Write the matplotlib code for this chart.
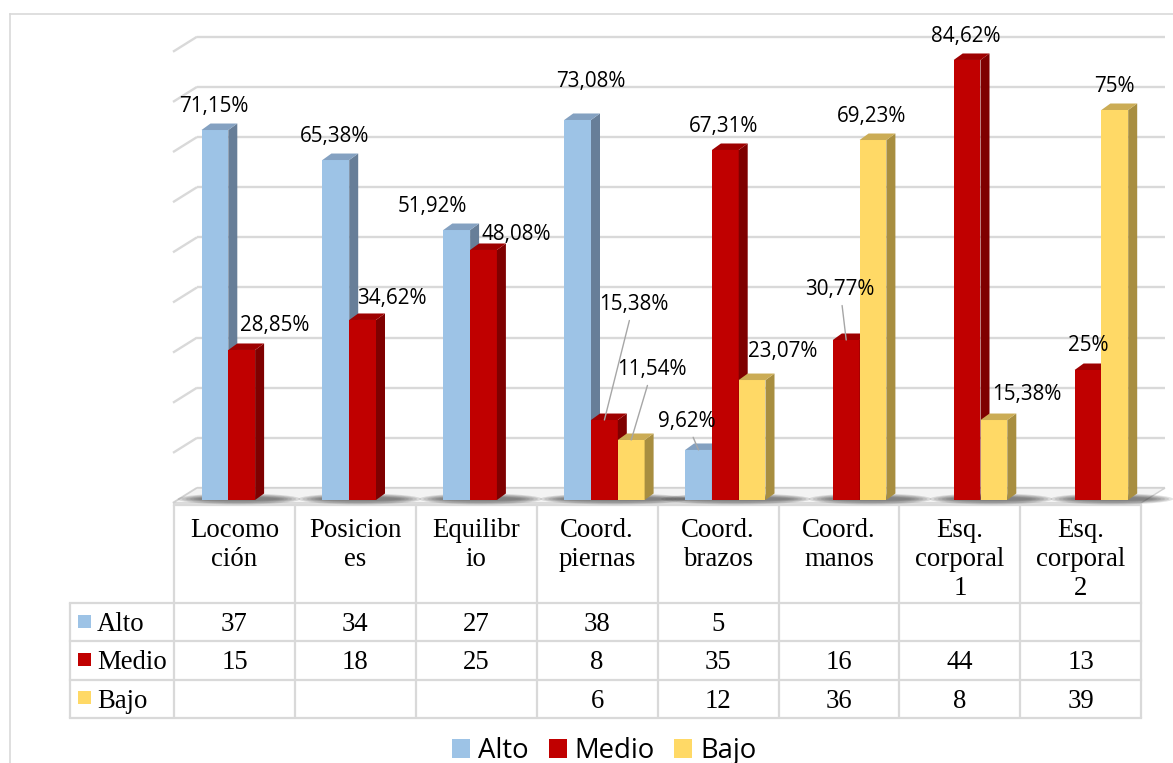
import matplotlib
matplotlib.use("Agg")
import matplotlib.pyplot as plt
from matplotlib.patches import Polygon, Rectangle, Ellipse, Patch

# ---------------- data ----------------
categories = ["Locomo\nción", "Posicion\nes", "Equilibr\nio", "Coord.\npiernas",
              "Coord.\nbrazos", "Coord.\nmanos", "Esq.\ncorporal\n1", "Esq.\ncorporal\n2"]
series = ["Alto", "Medio", "Bajo"]
alto_pct = [71.15, 65.38, 51.92, 73.08, 9.62, None, None, None]
medio_pct = [28.85, 34.62, 48.08, 15.38, 67.31, 30.77, 84.62, 25.00]
bajo_pct = [None, None, None, 11.54, 23.07, 69.23, 15.38, 75.00]
alto_n = [37, 34, 27, 38, 5, None, None, None]
medio_n = [15, 18, 25, 8, 35, 16, 44, 13]
bajo_n = [None, None, None, 6, 12, 36, 8, 39]
grid_values = [0, 10, 20, 30, 40, 50, 60, 70, 80, 90]

pct = [alto_pct, medio_pct, bajo_pct]
counts = [alto_n, medio_n, bajo_n]

# ---------------- styles ----------------
front_c = ["#9DC3E6", "#C00000", "#FFD966"]
side_c = ["#677E98", "#7F0000", "#A88E40"]
top_c = ["#84A1C1", "#9E0000", "#CBAC55"]
grid_c = "#D9D9D9"
line_c = "#D9D9D9"
label_font = ["Open Sans", "DejaVu Sans"]
table_font = ["Liberation Serif", "DejaVu Serif"]

# label offsets in pixels relative to the front-top centre of each bar (dx, dy up, leader)
label_off = {
    (0, 0): (-1, 18, False), (0, 1): (-1, 18, False), (0, 2): (-24, 18, False),
    (0, 3): (13, 33, False), (0, 4): (-12, 23, True),
    (1, 0): (33, 19, False), (1, 1): (29, 16, False), (1, 2): (33, 10, False),
    (1, 3): (29, 110, True), (1, 4): (-2, 18, False), (1, 5): (-6, 45, True),
    (1, 6): (-1, 18, False), (1, 7): (0, 19, False),
    (2, 3): (21, 65, True), (2, 4): (31, 23, False), (2, 5): (-1.5, 18, False),
    (2, 6): (33, 20, False), (2, 7): (0, 18, False),
}

# ---------------- layout (pixels) ----------------
FW, FH = 1173, 763
COL0, COLW = 174.0, 120.9       # table / category columns
FLOOR_Y, PXY = 500.0, 5.2       # floor line, pixels per percent

fig = plt.figure(figsize=(FW / 100, FH / 100), dpi=100)
fig.patch.set_facecolor("white")

# background axes in pixel units (border + table)
bg = fig.add_axes([0, 0, 1, 1], zorder=0)
bg.set_xlim(0, FW)
bg.set_ylim(FH, 0)
bg.axis("off")

# data axes: x = category index, y = percent
ax = fig.add_axes([COL0 / FW, (FH - FLOOR_Y) / FH, 8 * COLW / FW, FLOOR_Y / FH], zorder=1)
ax.set_xlim(0, len(categories))
ax.set_ylim(0, FLOOR_Y / PXY)
ax.axis("off")
ax.patch.set_alpha(0)

def px_x(p):
    return p / COLW

def px_y(p):
    return p / PXY

# outer border
bg.plot([10, FW], [14, 14], color=line_c, lw=1.2)
bg.plot([10, 10], [14, FH], color=line_c, lw=1.2)

# back wall gridlines (slightly smaller scale behind)
back_scale = 5.014 / PXY
back_y0 = px_y(12)
for v in grid_values:
    yb = back_y0 + v * back_scale
    ax.plot([px_x(23), px_x(991)], [yb, yb], color=grid_c, lw=1.7,
            clip_on=False, zorder=0.5, solid_capstyle="butt")
    ax.plot([px_x(-1), px_x(23)], [yb - px_y(15), yb], color=grid_c, lw=1.7,
            clip_on=False, zorder=0.5, solid_capstyle="butt")

# floor
floor = Polygon([(px_x(-1), px_y(-3)), (px_x(23), back_y0), (px_x(991), back_y0),
                 (px_x(967), px_y(-3))], closed=True, facecolor="#F3F3F3",
                edgecolor="#D0D0D0", lw=1.0, clip_on=False, zorder=1)
ax.add_patch(floor)

# bar geometry
OFF = px_x(27.5)
BW = px_x(26.8)
DX = px_x(9)
DY = px_y(6.5)

# shadows
for i in range(len(categories)):
    present = [s for s in range(3) if pct[s][i] is not None]
    xl = i + OFF + min(present) * BW
    xr = i + OFF + (max(present) + 1) * BW + DX
    cx = (xl + xr) / 2 + px_x(6)
    for k in range(6):
        w = (xr - xl) + px_x(60 - 8 * k)
        h = px_y(11 - 1.4 * k)
        ax.add_patch(Ellipse((cx, px_y(1)), w, h, facecolor="#3A3A3A",
                             edgecolor="none", alpha=0.14, clip_on=False, zorder=2))

def fmt(v):
    s = f"{v:.2f}".replace(".", ",")
    if s.endswith(",00"):
        s = s[:-3]
    return s + "%"

z = 3
for i in range(len(categories)):
    for s in range(3):
        v = pct[s][i]
        if v is None:
            continue
        x0 = i + OFF + s * BW
        x1 = x0 + BW
        ax.add_patch(Rectangle((x0, 0), BW, v, facecolor=front_c[s], edgecolor="none",
                               clip_on=False, zorder=z))
        ax.add_patch(Polygon([(x1, 0), (x1 + DX, DY), (x1 + DX, v + DY), (x1, v)],
                             closed=True, facecolor=side_c[s], edgecolor="none",
                             clip_on=False, zorder=z))
        ax.add_patch(Polygon([(x0, v), (x1, v), (x1 + DX, v + DY), (x0 + DX, v + DY)],
                             closed=True, facecolor=top_c[s], edgecolor="none",
                             clip_on=False, zorder=z))
        z += 0.01
        dx, dy, leader = label_off[(s, i)]
        kw = {}
        if leader:
            kw["arrowprops"] = dict(arrowstyle="-", color="#A6A6A6", lw=1.0,
                                    shrinkA=2, shrinkB=0)
        ax.annotate(fmt(v), xy=(x0 + BW / 2, v), xytext=(dx, dy),
                    textcoords="offset pixels", ha="center", va="baseline",
                    fontsize=14.9, family=label_font, color="black",
                    annotation_clip=False, zorder=10, **kw)

# ---------------- data table ----------------
HEAD_TOP = 505
ROW_LINES = [603, 641, 679.5, 718]
ROW_LEFT = 70
xs = [COL0 + COLW * k for k in range(len(categories) + 1)]
for x in xs:
    bg.plot([x, x], [HEAD_TOP, ROW_LINES[-1]], color=line_c, lw=1.6, solid_capstyle="butt")
bg.plot([ROW_LEFT, ROW_LEFT], [ROW_LINES[0], ROW_LINES[-1]], color=line_c, lw=1.6,
        solid_capstyle="butt")
bg.plot([xs[0], xs[-1]], [HEAD_TOP, HEAD_TOP], color=line_c, lw=1.6)
for y in ROW_LINES:
    bg.plot([ROW_LEFT, xs[-1]], [y, y], color=line_c, lw=1.6)

for i, cat in enumerate(categories):
    cx = COL0 + COLW * (i + 0.5)
    for k, line in enumerate(cat.split("\n")):
        bg.text(cx, 536.7 + 29.3 * k, line, ha="center", va="baseline",
                fontsize=19.3, family=table_font, color="black")

for r in range(3):
    yc = (ROW_LINES[r] + ROW_LINES[r + 1]) / 2
    bg.add_patch(Rectangle((78, yc - 7.5), 13, 13, facecolor=front_c[r], edgecolor="none"))
    bg.text(97, yc + 9, series[r], ha="left", va="baseline", fontsize=19.3,
            family=table_font, color="black")
    for i in range(len(categories)):
        n = counts[r][i]
        if n is None:
            continue
        cx = COL0 + COLW * (i + 0.5)
        bg.text(cx, yc + 9, str(n), ha="center", va="baseline", fontsize=19.3,
                family=table_font, color="black")

# ---------------- legend ----------------
handles = [Patch(facecolor=front_c[s], edgecolor="none", label=series[s]) for s in range(3)]
fig.legend(handles=handles, loc="center", bbox_to_anchor=(604.5 / FW, 1 - 751 / FH),
           ncol=3, frameon=False, prop={"family": label_font, "size": 19.8},
           handlelength=0.655, handleheight=0.655, handletextpad=0.29,
           columnspacing=0.71, borderpad=0, borderaxespad=0)

fig.savefig("out.png", dpi=100, facecolor="white")
